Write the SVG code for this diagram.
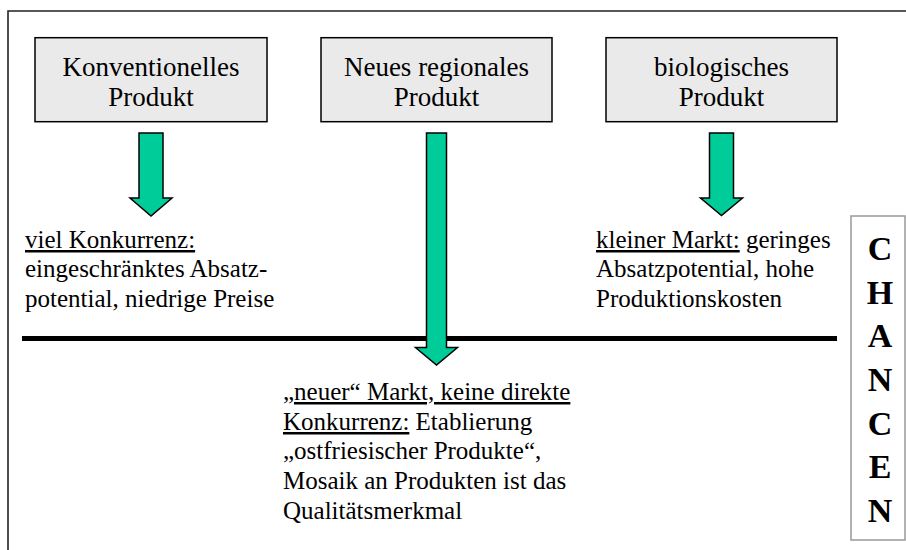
<svg xmlns="http://www.w3.org/2000/svg" width="906" height="550" viewBox="0 0 906 550">
<style>
.box{fill:#eaeaea;stroke:#000;stroke-width:1.5}
.bt{font-family:'Liberation Serif',serif;font-size:27px;fill:#000;text-anchor:middle}
.tx{font-family:'Liberation Serif',serif;font-size:25px;fill:#000}
.u{text-decoration:underline}
.arr{fill:#00cc99;stroke:#000;stroke-width:1.5;stroke-linejoin:miter}
.ch{font-family:'Liberation Serif',serif;font-size:34px;font-weight:bold;fill:#000;text-anchor:middle}
</style>
<rect width="906" height="550" fill="#fff"/>
<path d="M8,560 V11 H910" fill="none" stroke="#222" stroke-width="1.6"/>
<line x1="22" y1="338.5" x2="837" y2="338.5" stroke="#000" stroke-width="5"/>
<g id="n1">
<rect class="box" x="35" y="37.7" width="232" height="84"/>
<text class="bt" x="151" y="76">Konventionelles</text>
<text class="bt" x="151" y="106">Produkt</text>
</g>
<g id="n2">
<rect class="box" x="321" y="37.7" width="231" height="84"/>
<text class="bt" x="436.5" y="76">Neues regionales</text>
<text class="bt" x="436.5" y="106">Produkt</text>
</g>
<g id="n3">
<rect class="box" x="606" y="37.7" width="231" height="84"/>
<text class="bt" x="721.5" y="76">biologisches</text>
<text class="bt" x="721.5" y="106">Produkt</text>
</g>
<g id="connectors">
<polygon class="arr" points="139,133 163,133 163,198 172,198 151,216 130,198 139,198"/>
<polygon class="arr" points="426.5,133 446.5,133 446.5,347.5 457.5,347.5 436.5,365 415.5,347.5 426.5,347.5"/>
<polygon class="arr" points="709.5,133 733.5,133 733.5,198 742.5,198 721.5,215.5 700.5,198 709.5,198"/>
</g>
<g id="t1">
<text class="tx" x="25" y="248"><tspan class="u">viel Konkurrenz:</tspan></text>
<text class="tx" x="25" y="277">eingeschränktes Absatz-</text>
<text class="tx" x="25" y="307">potential, niedrige Preise</text>
</g>
<g id="t3">
<text class="tx" x="596" y="248"><tspan class="u">kleiner Markt:</tspan> geringes</text>
<text class="tx" x="596" y="277">Absatzpotential, hohe</text>
<text class="tx" x="596" y="307">Produktionskosten</text>
</g>
<g id="t2">
<text class="tx" x="283" y="400"><tspan class="u">„neuer“ Markt, keine direkte</tspan></text>
<text class="tx" x="283" y="430"><tspan class="u">Konkurrenz:</tspan> Etablierung</text>
<text class="tx" x="283" y="459">„ostfriesischer Produkte“,</text>
<text class="tx" x="283" y="489">Mosaik an Produkten ist das</text>
<text class="tx" x="283" y="519">Qualitätsmerkmal</text>
</g>
<g id="chancen">
<rect x="851" y="216" width="54" height="324" fill="#fff" stroke="#999" stroke-width="1.5"/>
<text class="ch" x="880" y="260">C</text>
<text class="ch" x="880" y="303.7">H</text>
<text class="ch" x="880" y="347.3">A</text>
<text class="ch" x="880" y="391">N</text>
<text class="ch" x="880" y="434.7">C</text>
<text class="ch" x="880" y="478.3">E</text>
<text class="ch" x="880" y="522">N</text>
</g>
</svg>
